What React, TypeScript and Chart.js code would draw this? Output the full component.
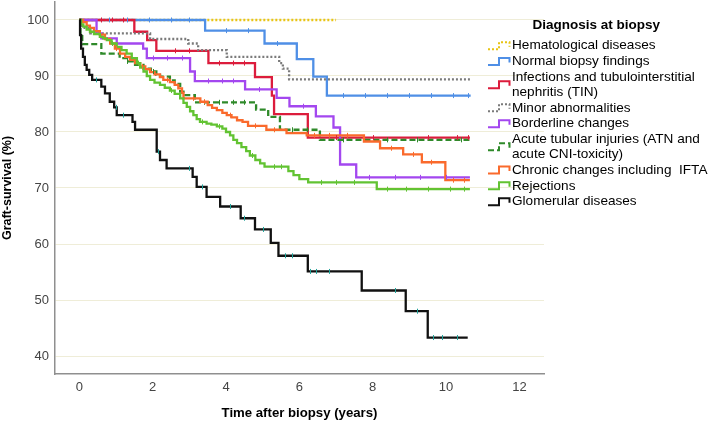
import React, { useEffect, useRef } from 'react';
import { Chart, registerables } from 'chart.js';

Chart.register(...registerables);

// ---- data (Kaplan–Meier steps: from time t onward, survival s) ----
const hemT = [0, 7.0];
const hemS = [100, 100];

const normT = [0, 3.43, 5.05, 5.93, 6.38, 6.75, 10.67];
const normS = [100, 98.1, 95.8, 93.0, 89.9, 86.5, 86.5];

const tinT = [0, 1.5, 1.85, 2.1, 3.52, 4.79, 5.25, 5.31, 6.23, 10.65];
const tinS = [100, 97.9, 96.4, 94.5, 92.3, 89.8, 86.5, 83.2, 79.0, 79.0];

const minorT = [0, 0.08, 0.3, 1.93, 2.97, 3.24, 4.02, 5.45, 5.55, 5.72, 10.65];
const minorS = [100, 98.6, 97.6, 96.6, 95.8, 94.6, 93.4, 92.3, 91.3, 89.4, 89.4];

const borderT = [0, 0.47, 0.6, 1.02, 1.74, 1.84, 3.02, 3.15, 4.52, 5.38, 5.73, 6.45, 6.93, 7.11, 7.55, 10.65];
const borderS = [100, 97.6, 96.7, 95.8, 94.9, 93.2, 90.8, 89.1, 87.6, 86.1, 84.6, 82.8, 80.8, 74.2, 71.9, 71.9];

const atnT = [0, 0.03, 0.08, 0.6, 1.1, 1.3, 1.52, 1.75, 1.95, 2.1, 2.2, 2.47, 2.6, 2.75, 2.84, 3.15, 4.82, 5.15, 5.47, 6.56, 10.65];
const atnS = [100, 97.5, 95.7, 94.0, 93.2, 92.6, 92.0, 91.3, 90.8, 90.2, 89.9, 89.2, 88.6, 87.2, 86.6, 85.3, 84.0, 82.7, 80.4, 78.6, 78.6];

const chronT = [0, 0.1, 0.2, 0.29, 0.4, 0.56, 0.7, 0.84, 0.97, 1.11, 1.25, 1.38, 1.52, 1.66, 1.8, 1.93, 2.05, 2.2, 2.29, 2.47, 2.6, 2.7, 2.8, 2.84, 3.3, 3.5, 3.62, 3.75, 3.9, 4.02, 4.15, 4.3, 4.45, 4.6, 5.1, 5.65, 6.2, 7.76, 8.2, 8.83, 9.34, 9.98, 10.65];
const chronS = [100, 99.6, 99.0, 98.6, 98.0, 97.4, 96.6, 95.8, 94.9, 94.0, 93.4, 92.9, 92.3, 91.7, 91.2, 90.7, 90.3, 89.8, 89.3, 88.9, 88.4, 87.8, 87.0, 86.0, 85.4, 84.8, 84.3, 83.9, 83.4, 83.0, 82.6, 82.1, 81.8, 81.1, 80.4, 79.8, 79.4, 78.3, 77.1, 76.0, 74.6, 71.4, 71.4];

const rejT = [0, 0.05, 0.11, 0.2, 0.29, 0.4, 0.56, 0.65, 0.75, 0.88, 1.02, 1.15, 1.29, 1.43, 1.57, 1.66, 1.75, 1.84, 1.93, 2.05, 2.2, 2.33, 2.47, 2.6, 2.75, 2.84, 2.93, 3.02, 3.11, 3.2, 3.29, 3.47, 3.6, 3.75, 3.9, 4.0, 4.11, 4.2, 4.3, 4.42, 4.55, 4.65, 4.8, 4.93, 5.05, 5.7, 5.84, 6.0, 6.24, 8.11, 10.65];
const rejS = [100, 99.2, 98.8, 98.3, 97.9, 97.5, 97.0, 96.7, 96.4, 95.8, 95.2, 94.6, 94.0, 93.2, 92.3, 91.5, 90.8, 90.0, 89.3, 88.8, 88.4, 87.9, 87.4, 86.8, 86.0, 85.2, 84.5, 83.7, 83.0, 82.3, 81.8, 81.5, 81.3, 81.0, 80.6, 80.0, 79.4, 78.6, 78.0, 77.3, 76.6, 75.8, 75.0, 74.4, 73.8, 73.0, 72.3, 71.6, 71.0, 69.8, 69.8];

const glomT = [0, 0.02, 0.05, 0.1, 0.15, 0.2, 0.27, 0.35, 0.6, 0.7, 0.83, 0.95, 1.02, 1.45, 1.52, 2.11, 2.2, 2.38, 3.09, 3.2, 3.47, 3.84, 4.4, 4.79, 5.22, 5.43, 6.23, 7.7, 8.9, 9.5, 10.59];
const glomS = [100, 97.3, 94.9, 93.4, 92.0, 91.1, 90.2, 89.3, 88.1, 86.9, 85.4, 84.4, 83.0, 81.8, 80.4, 76.5, 75.0, 73.5, 72.0, 70.2, 68.4, 66.7, 64.6, 62.6, 60.2, 57.9, 55.1, 51.7, 48.0, 43.3, 43.3];

// censored observation times (tick marks on the curves)
const hemC: number[] = [];
const normC = [0.8, 1.3, 1.9, 2.5, 3.0, 4.0, 4.6, 5.4, 7.2, 7.8, 8.4, 9.0, 9.6, 10.2, 10.6];
const tinC = [0.6, 0.9, 1.2, 2.6, 3.0, 3.8, 4.2, 4.5, 7.0, 8.0, 9.5, 10.3, 10.6];
const minorC: number[] = [];
const borderC = [2.0, 2.4, 2.8, 3.5, 3.9, 4.2, 4.9, 6.1, 7.9, 8.6, 9.3, 10.0];
const atnC = [1.3, 2.0, 3.4, 3.8, 4.2, 4.5, 5.8, 6.2, 7.2, 8.4, 9.2, 10.4];
const chronC = [1.0, 1.7, 2.4, 3.1, 3.4, 4.1, 4.8, 5.3, 6.4, 6.8, 7.3, 8.5, 9.1, 9.6, 10.2, 10.5];
const rejC = [0.9, 1.6, 2.5, 3.35, 3.8, 4.7, 5.3, 5.5, 6.6, 7.0, 7.5, 8.4, 8.9, 9.5, 10.1, 10.5];
const glomC = [0.45, 1.0, 1.2, 2.15, 3.0, 3.35, 4.1, 4.5, 5.0, 5.6, 5.8, 6.3, 6.45, 6.8, 8.6, 9.2, 9.65, 9.9, 10.3];

const seriesTimes = [hemT, normT, tinT, minorT, borderT, atnT, chronT, rejT, glomT];
const seriesSurv = [hemS, normS, tinS, minorS, borderS, atnS, chronS, rejS, glomS];
const seriesCensor = [hemC, normC, tinC, minorC, borderC, atnC, chronC, rejC, glomC];

const legendLabels: string[][] = [
  ['Hematological diseases'],
  ['Normal biopsy findings'],
  ['Infections and tubulointerstitial', 'nephritis (TIN)'],
  ['Minor abnormalities'],
  ['Borderline changes'],
  ['Acute tubular injuries (ATN and', 'acute CNI-toxicity)'],
  ['Chronic changes including  IFTA'],
  ['Rejections'],
  ['Glomerular diseases'],
];
const legendTitle = 'Diagnosis at biopsy';

const xTickValues = [0, 2, 4, 6, 8, 10, 12];
const yTickValues = [40, 50, 60, 70, 80, 90, 100];
const xAxisTitle = 'Time after biopsy (years)';
const yAxisTitle = 'Graft-survival (%)';

// ---- styles ----
const seriesColors = ['#e8c414', '#4f8fe6', '#dc1c3c', '#7a7a7a', '#a347ef', '#2f8a2a', '#fa6a2c', '#62c332', '#111111'];
const censorColors = ['#e8c414', '#4f8fe6', '#dc1c3c', '#7a7a7a', '#a347ef', '#2f8a2a', '#fa6a2c', '#62c332', '#1fa39a'];
const seriesDash: number[][] = [[2, 2], [], [], [2, 2], [], [6, 3], [], [], []];

const FONT = '"Liberation Sans", Arial, sans-serif';

function survivalAt(ts: number[], ss: number[], t: number) {
  let v = ss[0];
  for (let k = 0; k < ts.length; k++) if (ts[k] <= t) v = ss[k];
  return v;
}

const censorPlugin = {
  id: 'kmCensor',
  afterDatasetsDraw(chart: any) {
    const ctx = chart.ctx as CanvasRenderingContext2D;
    const xs = chart.scales.x;
    const ys = chart.scales.y;
    ctx.save();
    ctx.lineWidth = 1;
    for (let i = 0; i < seriesCensor.length; i++) {
      ctx.strokeStyle = censorColors[i];
      for (const t of seriesCensor[i]) {
        const px = Math.round(xs.getPixelForValue(t)) + 0.5;
        const py = ys.getPixelForValue(survivalAt(seriesTimes[i], seriesSurv[i], t));
        ctx.beginPath();
        ctx.moveTo(px, py - 2.5);
        ctx.lineTo(px, py + 2.5);
        ctx.stroke();
      }
    }
    ctx.restore();
  },
};

const legendPlugin = {
  id: 'kmLegend',
  afterDraw(chart: any) {
    const ctx = chart.ctx as CanvasRenderingContext2D;
    ctx.save();
    ctx.fillStyle = '#000';
    ctx.textAlign = 'left';
    ctx.textBaseline = 'middle';
    ctx.font = `bold 13.5px ${FONT}`;
    ctx.fillText(legendTitle, 532.5, 25);
    ctx.font = `13.6px ${FONT}`;
    let y = 45.7;
    const step = 15.9;
    const lineGap = 14.4;
    legendLabels.forEach((lines, i) => {
      const c = y + ((lines.length - 1) * lineGap) / 2;
      lines.forEach((ln, j) => {
        ctx.fillStyle = '#000';
        ctx.fillText(ln, 512, y + j * lineGap);
      });
      ctx.strokeStyle = seriesColors[i];
      ctx.lineWidth = 2;
      ctx.setLineDash(seriesDash[i]);
      ctx.beginPath();
      ctx.moveTo(488, c + 3.5);
      ctx.lineTo(499, c + 3.5);
      ctx.lineTo(499, c - 3.5);
      ctx.lineTo(509.5, c - 3.5);
      ctx.lineTo(509.5, c + 1);
      ctx.stroke();
      ctx.setLineDash([]);
      y += (lines.length - 1) * lineGap + step;
    });
    ctx.restore();
  },
};

export default function App() {
  const ref = useRef<HTMLCanvasElement>(null);
  useEffect(() => {
    document.body.style.margin = '0';
    const n = seriesTimes.length;
    const datasets = seriesTimes.map((ts, i) => ({
      label: legendLabels[i].join(' '),
      data: ts.map((t, k) => ({ x: t, y: seriesSurv[i][k] })),
      borderColor: seriesColors[i],
      backgroundColor: seriesColors[i],
      borderWidth: 2.3,
      borderDash: seriesDash[i],
      stepped: 'before' as const,
      pointRadius: 0,
      fill: false,
      order: n - 1 - i,
    }));
    const chart = new Chart(ref.current!, {
      type: 'line',
      data: { datasets },
      options: {
        responsive: false,
        animation: false,
        devicePixelRatio: 1,
        layout: { padding: { top: 2, right: 165, left: 0, bottom: 0 } },
        plugins: { legend: { display: false }, tooltip: { enabled: false } },
        scales: {
          x: {
            type: 'linear',
            min: -0.663,
            max: 12.67,
            afterBuildTicks: (s: any) => { s.ticks = xTickValues.map((v) => ({ value: v })); },
            afterFit: (s: any) => { s.height = 50; s.paddingLeft = 0; s.paddingRight = 0; },
            grid: { display: false, drawTicks: false },
            border: { display: true, color: '#8f8f8f', width: 1.5 },
            ticks: { color: '#444', font: { size: 13, family: FONT }, padding: 6, maxRotation: 0, autoSkip: false },
            title: { display: true, text: xAxisTitle, color: '#000', font: { size: 13.2, weight: 'bold', family: FONT }, padding: { top: 4, bottom: 3 } },
          },
          y: {
            type: 'linear',
            min: 36.79,
            max: 103.21,
            afterBuildTicks: (s: any) => { s.ticks = yTickValues.map((v) => ({ value: v })); },
            afterFit: (s: any) => { s.width = 55; s.paddingTop = 0; s.paddingBottom = 0; },
            grid: { color: '#efedd8', lineWidth: 1, drawTicks: false },
            border: { display: true, color: '#8f8f8f', width: 1.5 },
            ticks: { color: '#444', font: { size: 13, family: FONT }, padding: 6 },
            title: { display: true, text: yAxisTitle, color: '#000', font: { size: 12.5, weight: 'bold', family: FONT }, padding: { top: 0, bottom: 4 } },
          },
        },
      },
      plugins: [censorPlugin, legendPlugin],
    } as any);
    return () => chart.destroy();
  }, []);
  return (
    <div style={{ position: 'fixed', left: 0, top: 0, width: 709, height: 424, background: '#fff' }}>
      <canvas ref={ref} width={709} height={424} style={{ width: 709, height: 424, display: 'block' }} />
    </div>
  );
}
